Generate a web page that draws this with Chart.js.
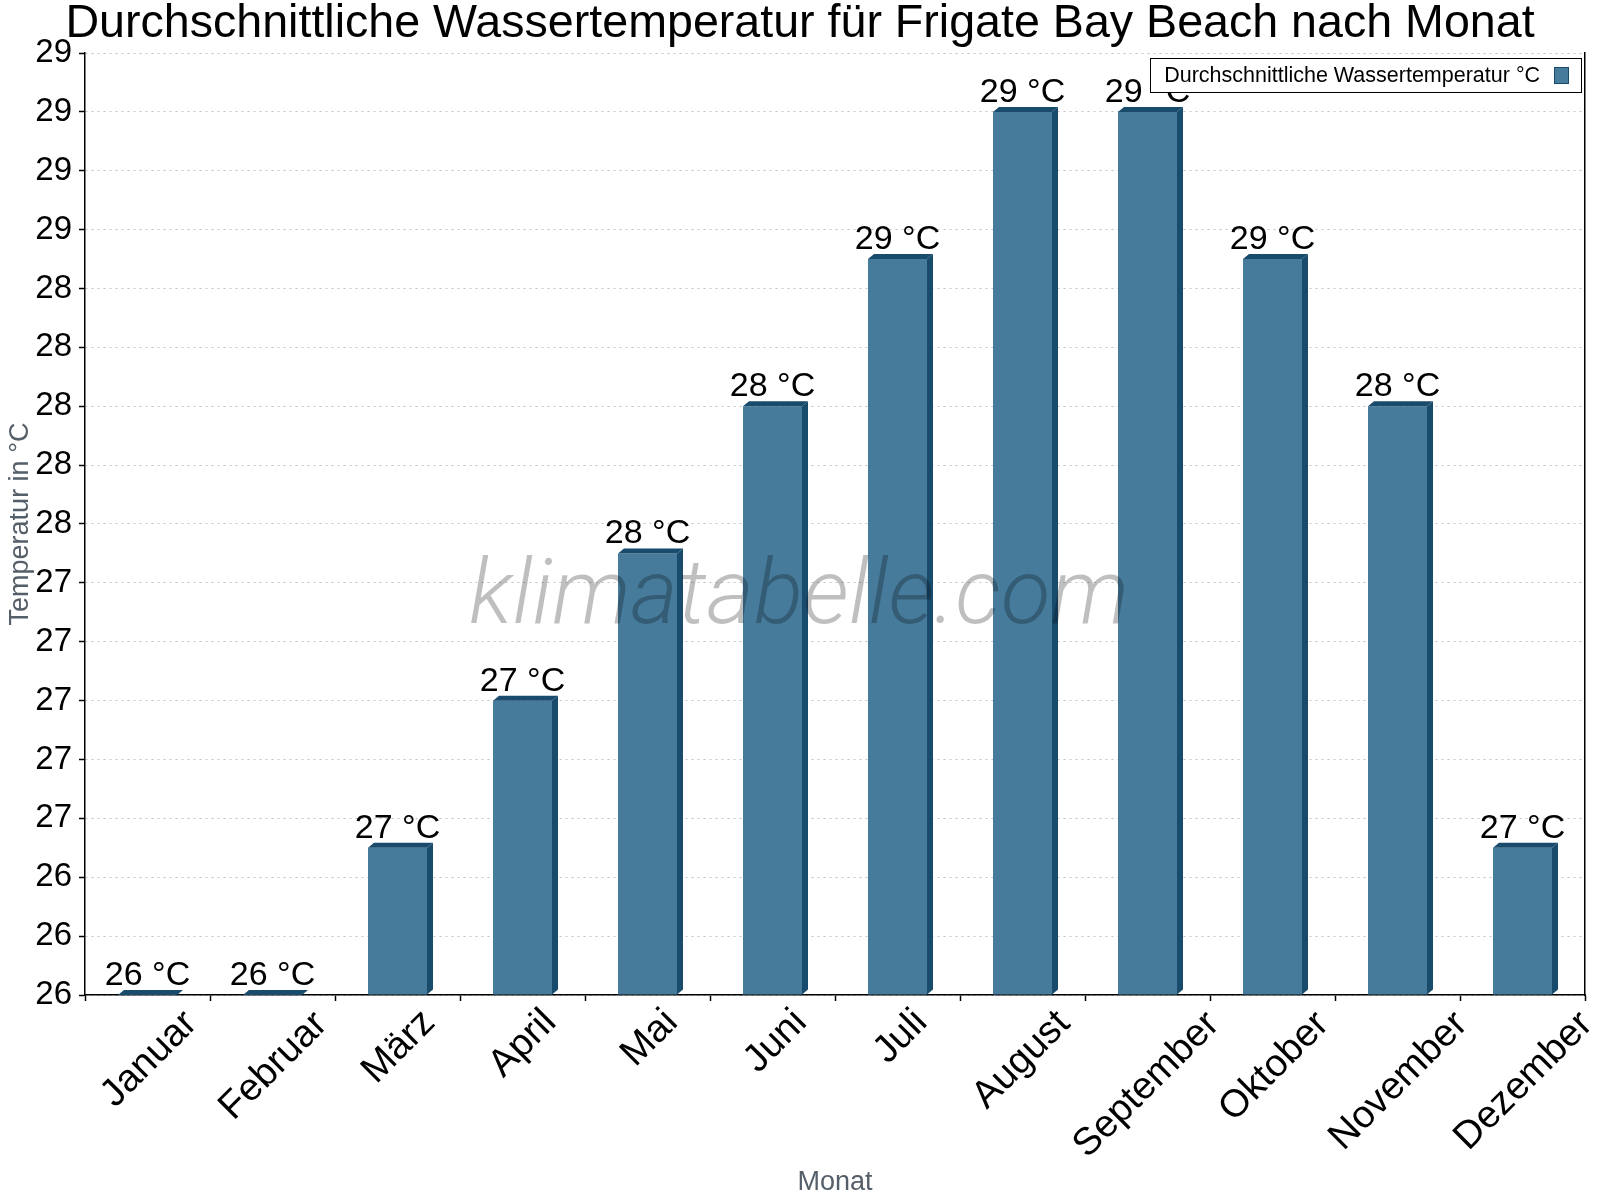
<!DOCTYPE html>
<html>
<head>
<meta charset="utf-8">
<script src="https://cdn.jsdelivr.net/npm/chart.js@4/dist/chart.umd.min.js"></script>
<style>
html,body{margin:0;padding:0;background:#ffffff;}
#wrap{width:1600px;height:1200px;}
canvas{display:block;}
</style>
</head>
<body>
<div id="wrap"><canvas id="c" width="1600" height="1200"></canvas></div>
<script>
// ---- data ----
const months = ['Januar', 'Februar', 'März', 'April', 'Mai', 'Juni', 'Juli', 'August', 'September', 'Oktober', 'November', 'Dezember'];
const waterTemps = [26.0, 26.0, 26.5, 27.0, 27.5, 28.0, 28.5, 29.0, 29.0, 28.5, 28.0, 26.5];
const yAxisMin = 26.0;
const yAxisMax = 29.2;
const yAxisStep = 0.2;
const seriesLabel = 'Durchschnittliche Wassertemperatur °C';
const chartTitle = 'Durchschnittliche Wassertemperatur für Frigate Bay Beach nach Monat';
const xAxisTitle = 'Monat';
const yAxisTitle = 'Temperatur in °C';
const unitSuffix = ' °C';
const watermarkText = 'klimatabelle.com';

// ---- styles ----
const FONT = '"Liberation Sans", Arial, Helvetica, sans-serif';
const FRONT = '#467b9c';
const DARK = '#184b6c';
const DEPTH_X = 6, DEPTH_Y = 5;

const depthPlugin = {
  id: 'depth3d',
  afterDatasetsDraw(chart) {
    const ctx = chart.ctx;
    const meta = chart.getDatasetMeta(0);
    const ca = chart.chartArea;
    ctx.save();
    ctx.fillStyle = DARK;
    meta.data.forEach(el => {
      const p = el.getProps(['x', 'y', 'base', 'width'], true);
      const base = Math.min(p.base, ca.bottom);
      const l = p.x - p.width / 2, r = p.x + p.width / 2;
      // top face
      ctx.beginPath();
      ctx.moveTo(l, p.y);
      ctx.lineTo(l + DEPTH_X, p.y - DEPTH_Y);
      ctx.lineTo(r + DEPTH_X, p.y - DEPTH_Y);
      ctx.lineTo(r, p.y);
      ctx.closePath();
      ctx.fill();
      // side face
      ctx.beginPath();
      ctx.moveTo(r, p.y);
      ctx.lineTo(r + DEPTH_X, p.y - DEPTH_Y);
      ctx.lineTo(r + DEPTH_X, base - DEPTH_Y);
      ctx.lineTo(r, base);
      ctx.closePath();
      ctx.fill();
    });
    ctx.restore();
  }
};

const valueLabelPlugin = {
  id: 'valueLabels',
  afterDatasetsDraw(chart) {
    const ctx = chart.ctx;
    const meta = chart.getDatasetMeta(0);
    const vals = chart.data.datasets[0].data;
    ctx.save();
    ctx.font = '34px ' + FONT;
    ctx.fillStyle = '#000';
    ctx.textAlign = 'center';
    ctx.textBaseline = 'alphabetic';
    meta.data.forEach((el, i) => {
      const p = el.getProps(['x', 'y'], true);
      ctx.fillText(Math.round(vals[i]) + unitSuffix, p.x, p.y - 10);
    });
    ctx.restore();
  }
};

const watermarkPlugin = {
  id: 'watermark',
  afterDatasetsDraw(chart) {
    const ctx = chart.ctx;
    const ca = chart.chartArea;
    ctx.save();
    ctx.font = 'italic 300 90px Roboto, ' + FONT;
    const w = ctx.measureText(watermarkText).width;
    const size = 90 * 660 / w;
    ctx.font = 'italic 300 ' + size.toFixed(1) + 'px Roboto, ' + FONT;
    ctx.fillStyle = 'rgba(0,0,0,0.25)';
    ctx.textAlign = 'center';
    ctx.textBaseline = 'alphabetic';
    ctx.fillText(watermarkText, ca.left + 714, ca.top + 570);
    ctx.restore();
  }
};

const monthLabelPlugin = {
  id: 'monthLabels',
  afterDraw(chart) {
    const ctx = chart.ctx;
    const xs = chart.scales.x;
    const top = xs.top + 11;
    ctx.save();
    ctx.font = '38.5px ' + FONT;
    ctx.fillStyle = '#000';
    ctx.textAlign = 'left';
    ctx.textBaseline = 'alphabetic';
    chart.data.labels.forEach((lab, i) => {
      const m = ctx.measureText(lab);
      const gw = m.actualBoundingBoxRight + m.actualBoundingBoxLeft;
      const asc = m.actualBoundingBoxAscent, desc = m.actualBoundingBoxDescent;
      const gh = asc + desc;
      const cx = xs.getPixelForValue(i);
      const cy = top + (gw + gh) * Math.SQRT1_2 / 2;
      const ux = (m.actualBoundingBoxRight - m.actualBoundingBoxLeft) / 2;
      const uy = (desc - asc) / 2;
      ctx.save();
      ctx.translate(cx, cy);
      ctx.rotate(-Math.PI / 4);
      ctx.fillText(lab, -ux, -uy);
      ctx.restore();
    });
    ctx.restore();
  }
};

const legendPlugin = {
  id: 'legendBox',
  afterDraw(chart) {
    const ctx = chart.ctx;
    const ca = chart.chartArea;
    const text = chart.data.datasets[0].label;
    ctx.save();
    ctx.font = '21.5px ' + FONT;
    const tw = ctx.measureText(text).width;
    const boxW = 14 + tw + 14 + 14 + 13;
    const boxH = 34;
    const x0 = ca.right - 4 - boxW;
    const y0 = ca.top + 5;
    ctx.fillStyle = '#fff';
    ctx.fillRect(x0, y0, boxW, boxH);
    ctx.strokeStyle = '#000';
    ctx.lineWidth = 1;
    ctx.strokeRect(Math.round(x0) + 0.5, Math.round(y0) + 0.5, Math.round(boxW), boxH);
    ctx.fillStyle = '#000';
    ctx.textAlign = 'left';
    ctx.textBaseline = 'alphabetic';
    ctx.fillText(text, x0 + 14, y0 + 24);
    const sx = x0 + 14 + tw + 14;
    ctx.fillStyle = FRONT;
    ctx.fillRect(sx, y0 + 9, 14, 16);
    ctx.strokeStyle = DARK;
    ctx.strokeRect(Math.round(sx) + 0.5, Math.round(y0 + 9) + 0.5, 14, 16);
    ctx.restore();
  }
};

new Chart(document.getElementById('c'), {
  type: 'bar',
  data: {
    labels: months,
    datasets: [{
      label: seriesLabel,
      data: waterTemps,
      base: yAxisMin,
      backgroundColor: FRONT,
      borderWidth: 0,
      barPercentage: 0.472,
      categoryPercentage: 1.0
    }]
  },
  options: {
    responsive: false,
    animation: false,
    devicePixelRatio: 1,
    layout: { padding: { left: 0, right: 0, top: 0, bottom: 0 } },
    plugins: {
      legend: { display: false },
      tooltip: { enabled: false },
      title: {
        display: true,
        text: chartTitle,
        color: '#000',
        font: { family: FONT, size: 46.6, weight: 'normal', lineHeight: 1 },
        padding: { top: 1, bottom: 5.4 }
      }
    },
    scales: {
      x: {
        type: 'category',
        offset: true,
        grid: {
          display: true,
          offset: true,
          drawOnChartArea: false,
          drawTicks: true,
          tickLength: 6,
          tickColor: '#000',
          tickWidth: 1.5
        },
        border: { display: true, color: '#000', width: 1.5 },
        ticks: { display: false },
        title: {
          display: true,
          text: xAxisTitle,
          color: '#555f69',
          font: { family: FONT, size: 27 },
          padding: { top: 0, bottom: 1 }
        },
        afterFit(s) { s.height = 205; }
      },
      y: {
        type: 'linear',
        position: 'left',
        min: yAxisMin,
        max: yAxisMax,
        ticks: {
          stepSize: yAxisStep,
          color: '#000',
          font: { family: FONT, size: 33 },
          padding: 7,
          autoSkip: false,
          callback: v => String(Math.round(v))
        },
        grid: {
          display: true,
          color: '#c2c2c2',
          lineWidth: 1,
          drawTicks: true,
          tickLength: 6,
          tickColor: '#000',
          tickWidth: 1.5,
          tickBorderDash: []
        },
        border: { display: true, color: '#000', width: 1.5, dash: [2, 4] },
        title: {
          display: true,
          text: yAxisTitle,
          color: '#555f69',
          font: { family: FONT, size: 27 },
          padding: { top: 4, bottom: 0 }
        },
        afterFit(s) { s.width = 85; }
      },
      yRight: {
        type: 'linear',
        position: 'right',
        min: yAxisMin,
        max: yAxisMax,
        ticks: { display: false },
        grid: { display: false, drawTicks: false, drawOnChartArea: false },
        border: { display: true, color: '#000', width: 1.5 },
        afterFit(s) { s.width = 15; }
      }
    }
  },
  plugins: [depthPlugin, valueLabelPlugin, watermarkPlugin, monthLabelPlugin, legendPlugin]
});
</script>
</body>
</html>
